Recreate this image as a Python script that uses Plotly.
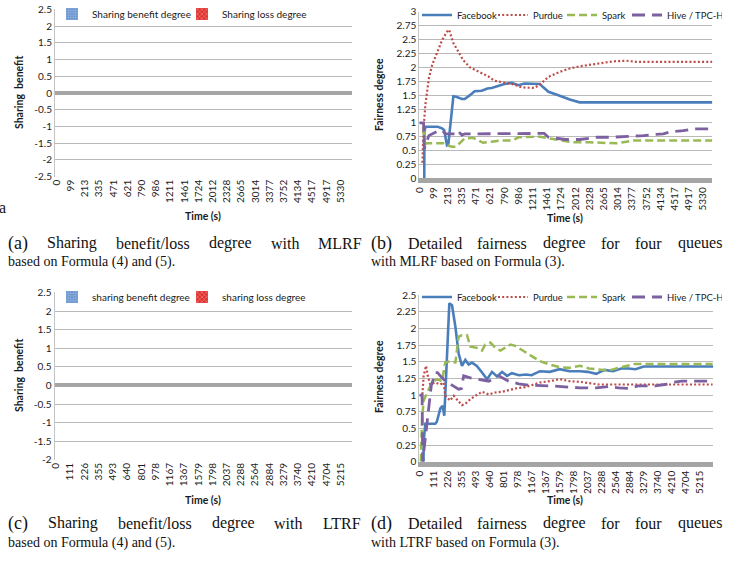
import plotly.graph_objects as go

# ---------------- data ----------------
# x positions are category positions on the (Excel-style) category axis,
# expressed in units of one tick-label interval.
time_labels_mlrf = ["0", "99", "213", "335", "471", "621", "790", "986", "1211", "1461", "1724",
                    "2012", "2328", "2665", "3014", "3377", "3752", "4134", "4517", "4917", "5330"]
time_labels_ltrf = ["0", "111", "226", "355", "493", "640", "801", "978", "1167", "1367", "1579",
                    "1798", "2037", "2288", "2564", "2884", "3279", "3740", "4210", "4704", "5215"]

share_pos = [0, 1, 2, 3, 4, 5, 6, 7, 8, 9, 10, 11, 12, 13, 14, 15, 16, 17, 18, 19, 20]
benefit_mlrf = [0, 0, 0, 0, 0, 0, 0, 0, 0, 0, 0, 0, 0, 0, 0, 0, 0, 0, 0, 0, 0]
loss_mlrf = [0, 0, 0, 0, 0, 0, 0, 0, 0, 0, 0, 0, 0, 0, 0, 0, 0, 0, 0, 0, 0]
benefit_ltrf = [0, 0, 0, 0, 0, 0, 0, 0, 0, 0, 0, 0, 0, 0, 0, 0, 0, 0, 0, 0, 0]
loss_ltrf = [0, 0, 0, 0, 0, 0, 0, 0, 0, 0, 0, 0, 0, 0, 0, 0, 0, 0, 0, 0, 0]

share_ticks_a = [-2.5, -2, -1.5, -1, -0.5, 0, 0.5, 1, 1.5, 2, 2.5]
share_text_a = ["-2.5", "-2", "-1.5", "-1", "-0.5", "0", "0.5", "1", "1.5", "2", "2.5"]
share_ticks_c = [-2, -1.5, -1, -0.5, 0, 0.5, 1, 1.5, 2, 2.5]
share_text_c = ["-2", "-1.5", "-1", "-0.5", "0", "0.5", "1", "1.5", "2", "2.5"]
fair_ticks_b = [0, 0.25, 0.5, 0.75, 1, 1.25, 1.5, 1.75, 2, 2.25, 2.5, 2.75, 3]
fair_text_b = ["0", "0.25", "0.5", "0.75", "1", "1.25", "1.5", "1.75", "2", "2.25", "2.5", "2.75", "3"]
fair_ticks_d = [0, 0.25, 0.5, 0.75, 1, 1.25, 1.5, 1.75, 2, 2.25, 2.5]
fair_text_d = ["0", "0.25", "0.5", "0.75", "1", "1.25", "1.5", "1.75", "2", "2.25", "2.5"]

# (b) MLRF fairness degree
b_fb_x = [0.35, 0.36, 0.45, 0.8, 1.3, 1.6, 1.75, 1.95, 2.05, 2.4, 2.6, 3.0, 3.2, 3.57, 3.9, 4.4, 4.8,
          5.1, 5.6, 6.0, 6.5, 7.0, 7.4, 8.0, 8.5, 8.7, 9.1, 9.9, 10.6, 11.3, 20.66]
b_fb_y = [0.0, 0.85, 0.93, 0.93, 0.93, 0.9, 0.87, 0.6, 0.62, 1.48, 1.47, 1.43, 1.43, 1.5, 1.57, 1.58, 1.62,
          1.63, 1.67, 1.7, 1.72, 1.68, 1.71, 1.7, 1.7, 1.65, 1.56, 1.49, 1.42, 1.37, 1.37]
b_pu_x = [0.22, 0.3, 0.43, 0.67, 0.9, 1.27, 1.62, 1.97, 2.1, 2.4, 2.75, 3.1, 3.57, 4.15, 4.85, 5.3,
          6.0, 6.7, 7.2, 8.1, 8.5, 9.1, 9.9, 10.6, 11.3, 12.5, 13.7, 14.6, 15.3, 20.66]
b_pu_y = [0.28, 0.9, 1.33, 1.8, 2.04, 2.28, 2.5, 2.65, 2.68, 2.44, 2.28, 2.13, 2.0, 1.93, 1.84, 1.76,
          1.72, 1.69, 1.64, 1.63, 1.69, 1.83, 1.92, 1.98, 2.02, 2.07, 2.11, 2.12, 2.1, 2.1]
b_sp_x = [0.2, 0.3, 0.35, 0.45, 0.9, 1.7, 1.85, 2.3, 2.6, 2.9, 3.2, 3.8, 4.15, 4.5, 5.1, 5.7, 6.5, 7.0,
          8.5, 9.4, 10.1, 10.8, 12.0, 13.2, 13.9, 14.6, 15.1, 20.66]
b_sp_y = [0.9, 0.9, 0.55, 0.63, 0.63, 0.63, 0.6, 0.57, 0.57, 0.65, 0.72, 0.73, 0.68, 0.64, 0.66, 0.68,
          0.68, 0.74, 0.75, 0.71, 0.68, 0.65, 0.65, 0.64, 0.63, 0.66, 0.68, 0.68]
b_hv_x = [0.0, 0.3, 0.35, 0.67, 1.27, 1.6, 1.85, 2.55, 2.7, 3.0, 3.2, 4.15, 6.5, 8.3, 8.8, 9.1, 9.6,
          10.3, 11.3, 11.9, 12.5, 13.5, 14.6, 15.3, 15.8, 16.5, 17.2, 17.7, 18.6, 19.3, 20.5]
b_hv_y = [1.0, 1.0, 0.53, 0.77, 0.85, 0.87, 0.8, 0.8, 0.86, 0.78, 0.8, 0.8, 0.81, 0.81, 0.81, 0.74,
          0.72, 0.7, 0.7, 0.72, 0.74, 0.74, 0.75, 0.76, 0.77, 0.79, 0.8, 0.84, 0.86, 0.89, 0.89]

# (d) LTRF fairness degree
d_fb_x = [0.3, 0.31, 0.43, 1.14, 1.25, 1.5, 1.66, 1.78, 1.85, 1.97, 2.14, 2.33, 2.57, 2.8, 3.04, 3.28,
          3.52, 3.75, 4.1, 4.47, 4.83, 5.18, 5.54, 5.9, 6.25, 6.6, 7.1, 7.6, 8.0, 8.6, 9.3, 10.0, 10.7,
          11.45, 12.0, 12.6, 13.2, 13.8, 14.4, 14.9, 15.4, 16.0, 20.95]
d_fb_y = [0.0, 0.3, 0.57, 0.57, 0.6, 0.8, 0.84, 0.69, 1.0, 1.63, 2.38, 2.35, 2.03, 1.63, 1.44, 1.53,
          1.46, 1.49, 1.44, 1.34, 1.24, 1.35, 1.28, 1.35, 1.29, 1.33, 1.3, 1.31, 1.3, 1.36, 1.35, 1.39, 1.36,
          1.36, 1.35, 1.32, 1.38, 1.36, 1.4, 1.4, 1.39, 1.43, 1.43]
d_pu_x = [0.2, 0.31, 0.48, 0.6, 0.78, 1.14, 1.5, 1.73, 1.85, 2.2, 2.45, 2.68, 3.04, 3.28, 3.64, 4.0,
          4.47, 4.95, 5.4, 5.9, 6.37, 6.84, 7.55, 8.0, 8.6, 9.3, 10.0, 10.7, 11.45, 12.1, 12.8, 20.9]
d_pu_y = [0.95, 1.29, 1.44, 1.29, 1.16, 1.19, 1.16, 1.19, 0.99, 0.92, 0.99, 0.94, 0.85, 0.87, 0.94,
          0.99, 1.05, 1.01, 1.04, 1.05, 1.08, 1.1, 1.12, 1.15, 1.19, 1.21, 1.24, 1.21, 1.2, 1.18, 1.16, 1.16]
d_sp_x = [0.1, 0.2, 0.31, 0.45, 0.9, 1.26, 1.62, 1.85, 2.2, 2.57, 2.8, 3.04, 3.4, 3.64, 4.1, 4.47, 4.7,
          5.06, 5.42, 5.78, 6.1, 6.5, 6.84, 7.3, 7.8, 8.27, 8.6, 9.3, 10.0, 10.7, 11.45, 12.1, 12.8, 13.5,
          14.2, 14.9, 15.4, 20.9]
d_sp_y = [0.0, 0.64, 0.92, 0.99, 1.19, 1.24, 1.21, 1.49, 1.51, 1.49, 1.88, 1.9, 1.9, 1.73, 1.71, 1.67,
          1.76, 1.79, 1.71, 1.67, 1.71, 1.76, 1.74, 1.68, 1.61, 1.56, 1.51, 1.46, 1.42, 1.41, 1.44, 1.4,
          1.39, 1.37, 1.41, 1.44, 1.47, 1.47]
d_hv_x = [0.0, 0.2, 0.24, 0.6, 0.85, 1.14, 1.3, 1.62, 1.97, 2.33, 2.8, 3.0, 3.16, 3.64, 4.24, 4.95, 5.66,
          6.37, 7.08, 7.8, 9.3, 10.5, 11.45, 12.6, 13.5, 14.2, 14.9, 15.6, 16.8, 17.5, 18.0, 18.7, 20.7]
d_hv_y = [1.0, 1.0, 0.0, 0.64, 1.14, 1.34, 1.34, 1.26, 1.19, 1.15, 1.09, 1.1, 1.29, 1.26, 1.24, 1.21,
          1.29, 1.21, 1.17, 1.15, 1.14, 1.12, 1.11, 1.11, 1.13, 1.11, 1.1, 1.14, 1.14, 1.16, 1.19, 1.21, 1.21]

queue_names = ["Facebook", "Purdue", "Spark", "Hive / TPC-H"]

captions = {
    "a": ("(a)", "Sharing benefit/loss degree with MLRF", "based on Formula (4) and (5)."),
    "b": ("(b)", "Detailed fairness degree for four queues", "with MLRF based on Formula (3)."),
    "c": ("(c)", "Sharing benefit/loss degree with LTRF", "based on Formula (4) and (5)."),
    "d": ("(d)", "Detailed fairness degree for four queues", "with LTRF based on Formula (3)."),
}

# ---------------- styling ----------------
W, H = 741, 562
FONT = "Lato"
TXT = "#1a1a1a"
GRID = "#b9b9b9"
ZERO = "#a5a5a5"
COL = {"Facebook": "#4a7ebb", "Purdue": "#be4b48", "Spark": "#98b954", "Hive / TPC-H": "#7d60a0"}
DASH = {"Facebook": "solid", "Purdue": "2px,2.2px", "Spark": "8px,4px", "Hive / TPC-H": "13px,7px"}
LW = {"Facebook": 2.6, "Purdue": 2.2, "Spark": 2.5, "Hive / TPC-H": 2.8}
LEGW = {"Facebook": 31, "Purdue": 24, "Spark": 20, "Hive / TPC-H": 50}


def px_x(p):
    return p / W


def px_y(p):
    return 1 - p / H


# plot areas in pixels: (left, right, top, bottom)
areas = {
    "a": (55, 352, 9.4, 176.8),
    "b": (419.3, 712.3, 11.7, 178.3),
    "c": (54.5, 352, 292.3, 460),
    "d": (419.3, 713.3, 295, 461.7),
}
xranges = {"a": [-0.1, 20.8], "b": [0, 20.65], "c": [-0.1, 20.8], "d": [0, 20.95]}

fig = go.Figure()

axis_ids = {"a": "", "b": "2", "c": "3", "d": "4"}
leg_ids = {"a": "legend", "b": "legend2", "c": "legend3", "d": "legend4"}

# sharing benefit / loss (all zero, so only their legend keys are visible)
for key, bvals, lvals, names in [
    ("a", benefit_mlrf, loss_mlrf, ("Sharing benefit degree", "Sharing loss degree")),
    ("c", benefit_ltrf, loss_ltrf, ("sharing benefit degree", "sharing loss degree")),
]:
    n = axis_ids[key]
    fig.add_trace(go.Bar(x=share_pos, y=bvals, name=names[0], xaxis="x" + n, yaxis="y" + n,
                         legend=leg_ids[key], legendwidth=85,
                         marker=dict(color="#6d97cf", line=dict(width=0),
                                     pattern=dict(shape="+", fgcolor="#c6d7ee", size=3, solidity=0.3))))
    fig.add_trace(go.Bar(x=share_pos, y=lvals, name=names[1], xaxis="x" + n, yaxis="y" + n,
                         legend=leg_ids[key],
                         marker=dict(color="#e0302d", line=dict(width=0),
                                     pattern=dict(shape="x", fgcolor="#ffffff", size=4, solidity=0.3))))

for key, series in [
    ("b", [(b_fb_x, b_fb_y), (b_pu_x, b_pu_y), (b_sp_x, b_sp_y), (b_hv_x, b_hv_y)]),
    ("d", [(d_fb_x, d_fb_y), (d_pu_x, d_pu_y), (d_sp_x, d_sp_y), (d_hv_x, d_hv_y)]),
]:
    n = axis_ids[key]
    for name, (xs, ys) in zip(queue_names, series):
        fig.add_trace(go.Scatter(x=xs, y=ys, mode="lines", name=name, xaxis="x" + n, yaxis="y" + n,
                                 legend=leg_ids[key], legendwidth=LEGW[name],
                                 line=dict(color=COL[name], width=LW[name], dash=DASH[name])))

layout = dict(width=W, height=H, margin=dict(l=0, r=0, t=0, b=0, autoexpand=False),
              paper_bgcolor="white", plot_bgcolor="white", showlegend=True,
              font=dict(family=FONT, size=10, color=TXT), barmode="group")

yticks = {"a": (share_ticks_a, share_text_a, [-2.504, 2.504]),
          "b": (fair_ticks_b, fair_text_b, [0, 3.005]),
          "c": (share_ticks_c, share_text_c, [-2.004, 2.504]),
          "d": (fair_ticks_d, fair_text_d, [0, 2.505])}
xlabels = {"a": time_labels_mlrf, "b": time_labels_mlrf, "c": time_labels_ltrf, "d": time_labels_ltrf}

for key, (l, r, t, b) in areas.items():
    n = axis_ids[key]
    xa = "xaxis" + n
    ya = "yaxis" + n
    bottom_band = key in ("b", "d")
    layout[xa] = dict(domain=[px_x(l), px_x(r)], range=xranges[key], anchor="y" + n,
                      tickmode="array", tickvals=list(range(len(xlabels[key]))), ticktext=xlabels[key],
                      tickangle=-90, tickfont=dict(family=FONT, size=10, color=TXT),
                      showgrid=False, zeroline=False, ticks="",
                      showline=bottom_band, linecolor=ZERO, linewidth=5)
    tv, tt, rg = yticks[key]
    layout[ya] = dict(domain=[px_y(b), px_y(t)], range=rg, anchor="x" + n,
                      tickmode="array", tickvals=tv, ticktext=tt, ticklabeloverflow="allow",
                      tickfont=dict(family=FONT, size=10, color=TXT),
                      showgrid=True, gridcolor=GRID, gridwidth=1,
                      zeroline=not bottom_band, zerolinecolor=ZERO, zerolinewidth=4,
                      showline=True, linecolor="#c4c4c4", linewidth=1, ticks="")

# legend top edges (row centre sits ~14.5px below)
legend_pos = {"a": (52, -0.5), "b": (417, 0.5), "c": (52, 282.5), "d": (417, 282.5)}
legend_font = {"a": 10, "b": 9.5, "c": 10, "d": 9.5}
for key, (lx, ly) in legend_pos.items():
    layout[leg_ids[key]] = dict(x=px_x(lx), y=px_y(ly), xanchor="left", yanchor="top",
                                orientation="h", bgcolor="rgba(0,0,0,0)",
                                font=dict(family=FONT, size=legend_font[key], color=TXT),
                                itemwidth=30, tracegroupgap=0)

fig.update_layout(**layout)

ann = []
# axis titles
for (xc, yc, txt) in [(19, 93, "Sharing  benefit"), (379, 95, "Fairness degree"),
                      (19, 376, "Sharing  benefit"), (379, 377, "Fairness degree")]:
    ann.append(dict(x=px_x(xc), y=px_y(yc), xref="paper", yref="paper", text="<b>" + txt + "</b>",
                    xanchor="center", yanchor="middle",
                    textangle=-90, showarrow=False, font=dict(family=FONT, size=10.5, color=TXT)))
for (xc, yc) in [(203, 216), (565, 218), (203, 500), (565, 500)]:
    ann.append(dict(x=px_x(xc), y=px_y(yc), xref="paper", yref="paper", text="<b>Time (s)</b>",
                    xanchor="center", yanchor="middle",
                    showarrow=False, font=dict(family=FONT, size=10.5, color=TXT)))

# captions (justified first line)
TW = {' ': 250, '(': 333, ')': 333, '/': 278, '.': 250, 'a': 444, 'b': 500, 'c': 444, 'd': 500,
      'e': 444, 'f': 333, 'g': 500, 'h': 500, 'i': 278, 'k': 500, 'l': 278, 'm': 778, 'n': 500,
      'o': 500, 'p': 500, 'q': 500, 'r': 333, 's': 389, 't': 278, 'u': 500, 'v': 500, 'w': 722,
      'x': 500, 'y': 500, 'D': 722, 'F': 556, 'L': 611, 'M': 889, 'R': 667, 'T': 611, 'S': 556}


def tw(s, size):
    return sum(TW.get(ch, 500) for ch in s) * size / 1000.0


SERIF = "Liberation Serif"
cap_pos = {"a": (7, 361, 243, 262), "b": (370, 721, 243, 262),
           "c": (7, 361, 523, 543), "d": (370, 721, 523, 543)}
for key, (x0, x1, y1, y2) in cap_pos.items():
    lab, line1, line2 = captions[key]
    words = [(lab, 18)] + [(w, 16) for w in line1.split(" ")]
    widths = [tw(w, s) for w, s in words]
    gap = (x1 - x0 - sum(widths)) / (len(words) - 1)
    cx = x0
    for (w, s), wd in zip(words, widths):
        ann.append(dict(x=px_x(cx - 1), y=px_y(y1), xref="paper", yref="paper", text=w,
                        xanchor="left", yanchor="middle", showarrow=False,
                        font=dict(family=SERIF, size=s, color="#111")))
        cx += wd + gap
    ann.append(dict(x=px_x(x0 - 1), y=px_y(y2), xref="paper", yref="paper", text=line2,
                    xanchor="left", yanchor="middle", showarrow=False,
                    font=dict(family=SERIF, size=14, color="#111")))

# stray clipped glyph at the left edge
ann.append(dict(x=px_x(-3), y=px_y(207), xref="paper", yref="paper", text="a", xanchor="left",
                yanchor="middle", showarrow=False, font=dict(family=SERIF, size=16, color="#111")))

fig.update_layout(annotations=ann)
# the page body gets no margin so the figure fills the window exactly
fig.write_html("out.html", config={"displayModeBar": False},
               post_script="document.body.style.margin='0px';")
